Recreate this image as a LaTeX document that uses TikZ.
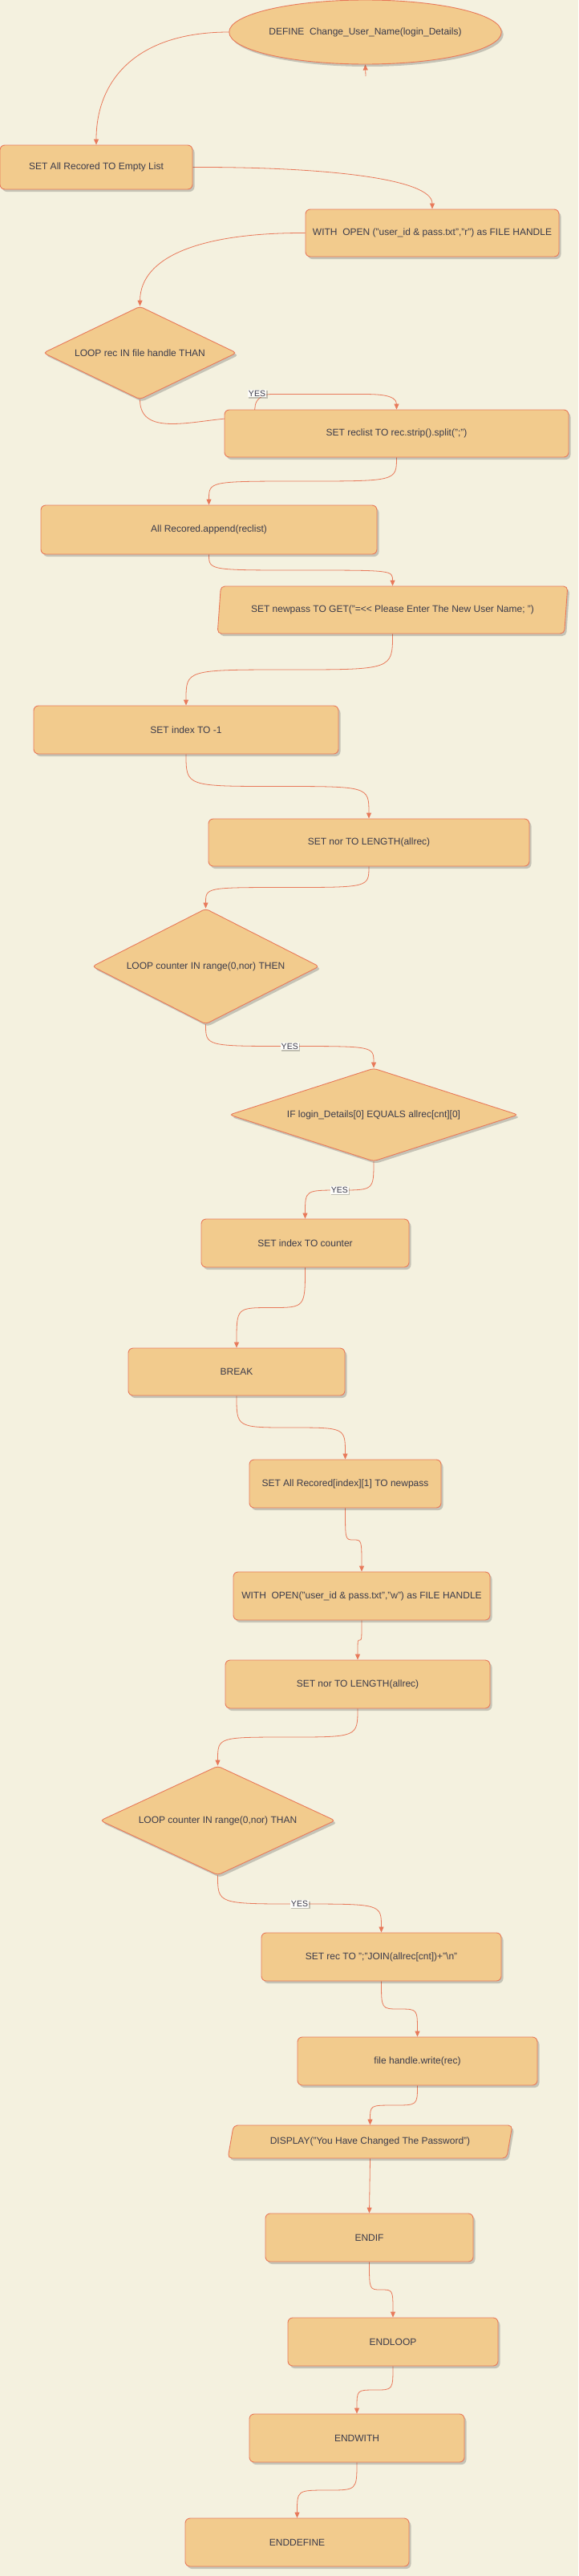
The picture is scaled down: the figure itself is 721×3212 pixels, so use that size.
\documentclass[tikz,border=0pt]{standalone}
\usepackage{fontspec}
\setmainfont{Liberation Sans}
\usetikzlibrary{shapes.geometric,shadows,arrows.meta,calc}
\definecolor{bgc}{HTML}{F4F1DF}
\definecolor{nodefill}{HTML}{F2CB8D}
\definecolor{nodeline}{HTML}{E8795A}
\definecolor{txt}{HTML}{3B3B4B}
\definecolor{edgec}{HTML}{E8795A}
\pgfdeclarelayer{back}
\pgfdeclarelayer{bg}
\pgfsetlayers{back,bg,main}
\newcommand\scurve[2]{%
  \path ($(#1.south)!0.5!(#2.north)$) coordinate (m);
  \draw[conn] (#1.south) .. controls (#1.south |- m) .. (m) .. controls (#2.north |- m) .. (#2.north);}
\begin{document}
\begin{tikzpicture}[x=1pt,y=1pt,
  base/.style={draw=nodeline, fill=nodefill, line width=0.9pt, text=txt,
    font=\fontsize{12}{14}\selectfont, inner sep=0pt, align=center,
    drop shadow={shadow xshift=2.5pt, shadow yshift=-3pt, opacity=0.28, fill=black!70}},
  box/.style={base, rectangle, rounded corners=6pt},
  ell/.style={base, ellipse},
  dia/.style={base, diamond, rounded corners=4pt},
  para/.style={base, trapezium, trapezium stretches=true, rounded corners=5pt},
  conn/.style={draw=edgec, line width=0.8pt, -{Triangle[length=7pt,width=6pt]}},
  lbl/.style={fill=white!80!bgc, text=txt, font=\fontsize{10.5}{12}\selectfont, inner sep=1pt,
    drop shadow={shadow xshift=1.5pt, shadow yshift=-1.5pt, opacity=0.3, fill=black!70}}
]
\begin{pgfonlayer}{back}
\fill[bgc] (0,0) rectangle (721,-3212);
\end{pgfonlayer}
\useasboundingbox (0,0) rectangle (721,-3212);

\node[ell, minimum width=339pt, minimum height=80pt] (def) at (455.5,-40) {DEFINE~~Change\_User\_Name(login\_Details)};
\node[box, minimum width=240pt, minimum height=55pt] (b1) at (120,-208.5) {SET All Recored TO Empty List};
\node[box, minimum width=316pt, minimum height=59pt] (w1) at (539,-290.5) {WITH~~OPEN ("user\_id \& pass.txt","r") as FILE HANDLE};
\node[dia, minimum width=241pt, minimum height=116pt, aspect=2.08] (d1) at (174.5,-440) {LOOP rec IN file handle THAN};
\node[box, minimum width=429pt, minimum height=59pt] (rl) at (494.5,-540.5) {SET reclist TO rec.strip().split(";")};
\node[box, minimum width=419pt, minimum height=61pt] (ap) at (260.5,-660.5) {All Recored.append(reclist)};
\node[para, minimum width=437pt, minimum height=59pt, trapezium left angle=73, trapezium right angle=107] (np) at (489.5,-760.5) {SET newpass TO GET("=<{}< Please Enter The New User Name; ")};
\node[box, minimum width=380pt, minimum height=60pt] (ix) at (232,-910) {SET index TO -1};
\node[box, minimum width=400pt, minimum height=59pt] (nr) at (460,-1050.5) {SET nor TO LENGTH(allrec)};
\node[dia, minimum width=283pt, minimum height=144pt, aspect=1.97] (d2) at (256.5,-1205) {LOOP counter IN range(0,nor) THEN};
\node[dia, minimum width=360pt, minimum height=116pt, aspect=3.1] (if) at (466,-1390) {IF login\_Details[0] EQUALS allrec[cnt][0]};
\node[box, minimum width=259pt, minimum height=60pt] (ic) at (380.5,-1550) {SET index TO counter};
\node[box, minimum width=270pt, minimum height=59pt] (bk) at (295,-1710.5) {BREAK};
\node[box, minimum width=239pt, minimum height=60pt] (ar) at (430.5,-1850) {SET All Recored[index][1] TO newpass};
\node[box, minimum width=320pt, minimum height=60pt] (w2) at (451,-1990) {WITH~~OPEN("user\_id \& pass.txt","w") as FILE HANDLE};
\node[box, minimum width=330pt, minimum height=60pt] (n2) at (446,-2100) {SET nor TO LENGTH(allrec)};
\node[dia, minimum width=293pt, minimum height=136pt, aspect=2.15] (d3) at (271.5,-2270) {LOOP counter IN range(0,nor) THAN};
\node[box, minimum width=299pt, minimum height=60pt] (sr) at (475.5,-2440) {SET rec TO ";"JOIN(allrec[cnt])+"\textbackslash n"};
\node[box, minimum width=299pt, minimum height=60pt] (fw) at (520.5,-2570) {file handle.write(rec)};
\node[para, minimum width=355pt, minimum height=41pt, trapezium left angle=65, trapezium right angle=115] (dp) at (461.5,-2670.5) {DISPLAY("You Have Changed The Password")};
\node[box, minimum width=259pt, minimum height=60pt] (ei) at (460.5,-2790) {ENDIF};
\node[box, minimum width=262pt, minimum height=60pt] (el) at (490,-2920) {ENDLOOP};
\node[box, minimum width=268pt, minimum height=60pt] (ew) at (445,-3040) {ENDWITH};
\node[box, minimum width=279pt, minimum height=60pt] (ed) at (370.5,-3170) {ENDDEFINE};

\coordinate (stub) at (456,-95);
\coordinate (h1) at (300,-521);
\coordinate (h2) at (318,-508);
\coordinate (h3) at (338,-491.5);
\coordinate (h4) at (450,-491.5);

\begin{pgfonlayer}{bg}
\draw[conn] (stub) -- (def.south);
\draw[conn] (def.west) .. controls (170,-40) and (120,-100) .. (b1.north);
\draw[conn] (b1.east) .. controls (400,-208) and (539,-222) .. (w1.north);
\draw[conn] (w1.west) .. controls (250,-290) and (175,-320) .. (d1.north);
\draw[conn] (d1.south) to[out=-90,in=180] (h1) to[out=0,in=-90] (h2) to[out=90,in=180] (h3) -- (h4) to[out=0,in=90] (rl.north);
\scurve{rl}{ap}
\scurve{ap}{np}
\scurve{np}{ix}
\scurve{ix}{nr}
\scurve{nr}{d2}
\scurve{d2}{if}
\scurve{if}{ic}
\scurve{ic}{bk}
\scurve{bk}{ar}
\scurve{ar}{w2}
\scurve{w2}{n2}
\scurve{n2}{d3}
\scurve{d3}{sr}
\scurve{sr}{fw}
\scurve{fw}{dp}
\draw[conn] (dp.south) -- (ei.north);
\scurve{ei}{el}
\scurve{el}{ew}
\scurve{ew}{ed}
\end{pgfonlayer}

\node[lbl] (yes1) at (320.5,-490.5) {YES};
\node[lbl] (yes2) at ($(d2.south)!0.5!(if.north)$) {YES};
\node[lbl] (yes3) at ($(if.south)!0.5!(ic.north)$) {YES};
\node[lbl] (yes4) at ($(d3.south)!0.5!(sr.north)$) {YES};
\end{tikzpicture}
\end{document}
